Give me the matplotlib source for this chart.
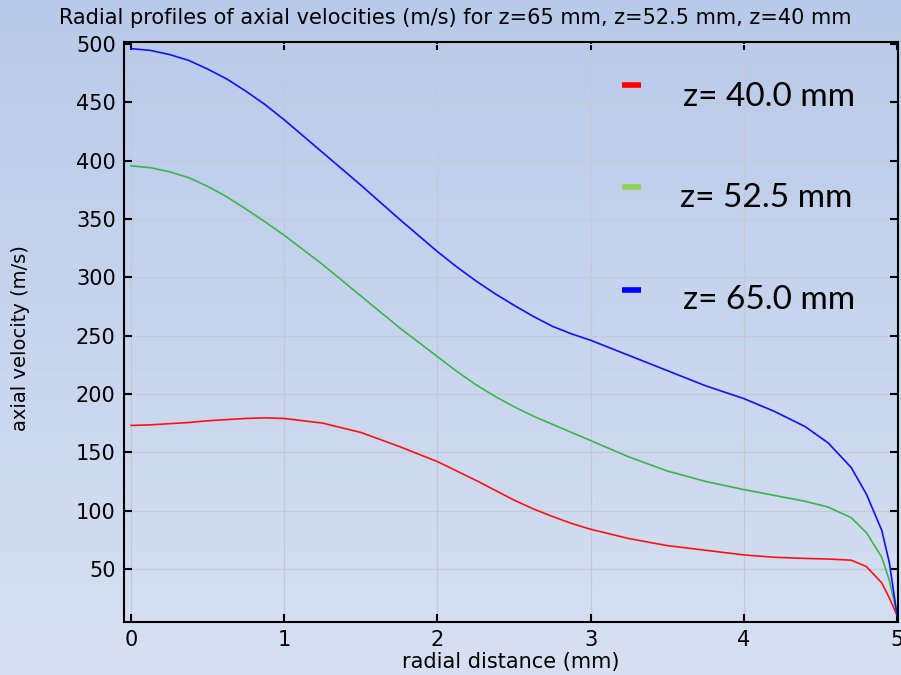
import numpy as np
import matplotlib.pyplot as plt
from matplotlib.lines import Line2D

# radial positions (mm)
r_mm = [0.0, 0.125, 0.25, 0.375, 0.5, 0.625, 0.75, 0.875, 1.0, 1.25, 1.5, 1.75,
        2.0, 2.125, 2.25, 2.375, 2.5, 2.625, 2.75, 2.875, 3.0, 3.25, 3.5, 3.75,
        4.0, 4.2, 4.4, 4.55, 4.7, 4.8, 4.9, 4.95, 5.0]

# axial velocity (m/s) at each z
v_z40 = [173, 173.5, 174.5, 175.5, 177, 178, 179, 179.5, 179, 175, 167, 155,
         142, 134, 126, 117.5, 109, 101.5, 95, 89, 84, 76, 70, 66,
         62, 60, 59, 58.5, 57.5, 52, 38, 25, 10]
v_z52 = [395.5, 394, 390.5, 385.5, 378, 369, 358.5, 347.5, 336, 311, 284, 257,
         232, 219.5, 208, 198, 189, 181, 174, 167, 160, 146, 134, 125,
         118, 113, 108, 103, 94, 81, 60, 40, 11]
v_z65 = [496, 494.5, 491, 486, 478.5, 470, 459.5, 448, 435, 407, 379, 350,
         322, 309, 297, 286, 276, 266.5, 258, 251.5, 246, 233, 220, 207,
         196, 185, 172, 158, 137, 114, 83, 55, 10]

labels = ["z= 40.0 mm", "z= 52.5 mm", "z= 65.0 mm"]
line_colors = ["#ff1010", "#3cb44b", "#1010ff"]
key_colors = ["#ff0000", "#92d050", "#0000ff"]

fig = plt.figure(figsize=(9.01, 6.75), dpi=100)

# gradient background behind everything
bg = fig.add_axes([0, 0, 1, 1], zorder=-1)
grad = np.linspace(0, 1, 256).reshape(-1, 1)
top = np.array([0.722, 0.792, 0.914])
bot = np.array([0.843, 0.878, 0.949])
img = top[None, None, :] * (1 - grad[:, :, None]) + bot[None, None, :] * grad[:, :, None]
bg.imshow(img, aspect="auto", extent=[0, 1, 0, 1])
bg.axis("off")

ax = fig.add_axes([0.1376, 0.0785, 0.8591, 0.8593])
ax.set_facecolor("none")

for v, c in zip([v_z40, v_z52, v_z65], line_colors):
    ax.plot(r_mm, v, color=c, lw=1.2)

ax.set_xlim(-0.046, 5.006)
ax.set_ylim(4.5, 501.7)
ax.set_xticks([0, 1, 2, 3, 4, 5])
ax.set_yticks(np.arange(50, 501, 50))
ax.grid(True, color="#c3c9d6", lw=0.9)
ax.set_axisbelow(True)
ax.tick_params(direction="in", length=6, width=1.5, labelsize=15,
               top=True, right=True, pad=6)
for s in ax.spines.values():
    s.set_linewidth(1.5)

ax.set_xlabel("radial distance (mm)", fontsize=15, labelpad=1)
ax.set_ylabel("axial velocity (m/s)", fontsize=14)
ax.yaxis.set_label_coords(-0.121, 0.49)
fig.text(0.505, 0.974,
         "Radial profiles of axial velocities (m/s) for z=65 mm, z=52.5 mm, z=40 mm",
         fontsize=15, ha="center", va="center")

# key, drawn like the pasted legend in the original
key_y = [0.874, 0.723, 0.571]
text_y = [0.857, 0.707, 0.556]
text_x = [0.758, 0.755, 0.758]
for ky, tx, ty, lab, c in zip(key_y, text_x, text_y, labels, key_colors):
    fig.add_artist(Line2D([0.690, 0.711], [ky, ky], color=c, lw=4,
                          solid_capstyle="butt", transform=fig.transFigure))
    fig.text(tx, ty, lab, fontsize=24, family="Lato", ha="left", va="center")

plt.savefig("out.png", dpi=100)
